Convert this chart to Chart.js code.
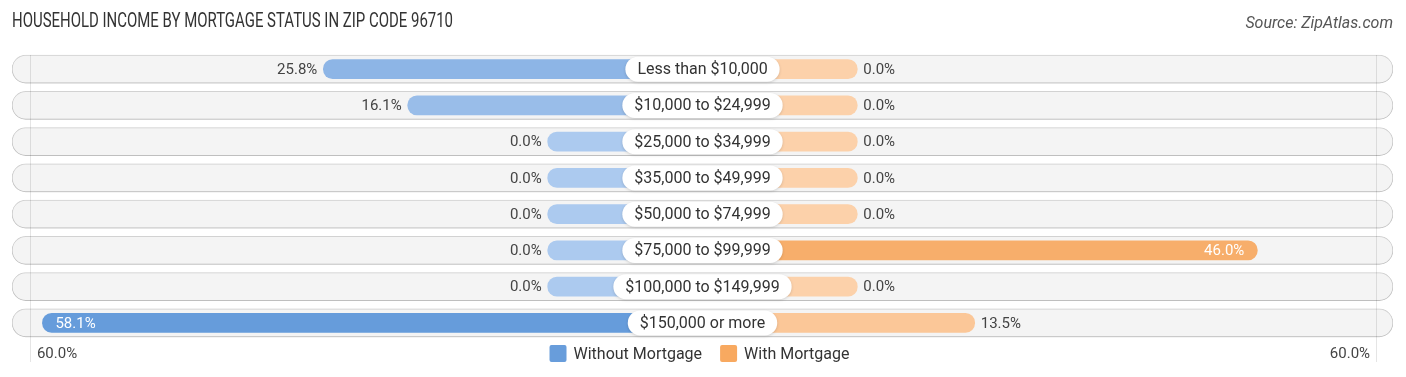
<!DOCTYPE html>
<html>
<head>
<meta charset="utf-8">
<script src="https://cdn.jsdelivr.net/npm/chart.js@4.4.0/dist/chart.umd.min.js"></script>
<style>
  html, body { margin: 0; padding: 0; background: #fff; }
  #wrap { position: relative; width: 1406px; height: 377px; }
</style>
</head>
<body>
<div id="wrap"><canvas id="chart" width="1406" height="377"></canvas></div>
<script>
const chartTitle = 'HOUSEHOLD INCOME BY MORTGAGE STATUS IN ZIP CODE 96710';
const sourceText = 'Source: ZipAtlas.com';
const categories = [
  'Less than $10,000', '$10,000 to $24,999', '$25,000 to $34,999', '$35,000 to $49,999',
  '$50,000 to $74,999', '$75,000 to $99,999', '$100,000 to $149,999', '$150,000 or more'
];
const seriesNames = ['Without Mortgage', 'With Mortgage'];
const withoutMortgage = [25.8, 16.1, 0.0, 0.0, 0.0, 0.0, 0.0, 58.1];
const withMortgage = [0.0, 0.0, 0.0, 0.0, 0.0, 46.0, 0.0, 13.5];
const axisMax = 60;
const axisLabels = ['60.0%', '60.0%'];

// bars start under the centre label, this many units out from the middle
const OFFSET = 17.8;
const EDGE = 79.4;

const BLUE_LIGHT = [172, 202, 239], BLUE_DARK = [100, 154, 218];
const ORANGE_LIGHT = [252, 209, 170], ORANGE_DARK = [246, 163, 88];
const legendColors = ['rgb(104,157,219)', 'rgb(248,169,96)'];

function shade(light, dark, v) {
  const t = Math.min(v / axisMax, 1);
  const c = light.map((l, i) => Math.round(l + (dark[i] - l) * t));
  return `rgb(${c[0]},${c[1]},${c[2]})`;
}

const bgPlugin = {
  id: 'rowShadow',
  beforeDatasetDraw(chart, args) {
    if (args.index !== 0) return;
    const ctx = chart.ctx;
    ctx.save();
    ctx.shadowColor = 'rgba(0,0,0,0.18)';
    ctx.shadowBlur = 3;
    ctx.shadowOffsetY = 1;
  },
  afterDatasetDraw(chart, args) {
    if (args.index === 0) chart.ctx.restore();
  }
};

const labelPlugin = {
  id: 'labels',
  afterDatasetsDraw(chart) {
    const ctx = chart.ctx;
    const xs = chart.scales.x, ys = chart.scales.y;
    const cx = xs.getPixelForValue(0);
    const leftX = xs.getPixelForValue(-(OFFSET + axisMax));
    const rightX = xs.getPixelForValue(OFFSET + axisMax);

    // faint 60% guide lines
    ctx.save();
    ctx.strokeStyle = 'rgba(0,0,0,0.10)';
    ctx.lineWidth = 1;
    [leftX + 4, rightX - 3].forEach(px => {
      const x = Math.round(px) + 0.5;
      ctx.beginPath();
      ctx.moveTo(x, 55);
      ctx.lineTo(x, 362);
      ctx.stroke();
    });
    ctx.restore();

    ctx.save();
    ctx.font = '15px Roboto';
    ctx.textBaseline = 'middle';
    [[1, withoutMortgage, -1], [2, withMortgage, 1]].forEach(([di, values, dir]) => {
      const meta = chart.getDatasetMeta(di);
      meta.data.forEach((bar, i) => {
        const v = values[i];
        const txt = v.toFixed(1) + '%';
        const y = bar.y + 1;
        if (v >= 30) {
          ctx.fillStyle = '#fff';
          ctx.textAlign = dir < 0 ? 'left' : 'right';
          ctx.fillText(txt, bar.x - dir * 13, y);
        } else {
          ctx.fillStyle = '#444';
          ctx.textAlign = dir < 0 ? 'right' : 'left';
          ctx.fillText(txt, bar.x + dir * 6, y);
        }
      });
    });

    // category pills in the middle
    ctx.font = '16px Roboto';
    categories.forEach((c, i) => {
      const y = ys.getPixelForValue(i);
      const w = ctx.measureText(c).width + 24;
      const h = 25;
      ctx.save();
      ctx.shadowColor = 'rgba(0,0,0,0.15)';
      ctx.shadowBlur = 3;
      ctx.shadowOffsetY = 1;
      ctx.fillStyle = '#fff';
      ctx.beginPath();
      ctx.roundRect(cx - w / 2, y - h / 2, w, h, h / 2);
      ctx.fill();
      ctx.restore();
      ctx.fillStyle = '#333';
      ctx.textAlign = 'center';
      ctx.fillText(c, cx, y + 1);
    });

    // axis end labels
    ctx.font = '15px Roboto';
    ctx.fillStyle = '#444';
    ctx.textAlign = 'left';
    ctx.fillText(axisLabels[0], leftX + 11, 354);
    ctx.textAlign = 'right';
    ctx.fillText(axisLabels[1], rightX - 9, 354);

    // legend
    ctx.font = '16px Roboto';
    const box = 17, gap = 7, between = 18;
    const widths = seriesNames.map(s => ctx.measureText(s).width);
    const total = widths.reduce((a, w) => a + box + gap + w, 0) + between;
    let lx = cx - 3 - total / 2;
    seriesNames.forEach((s, i) => {
      ctx.fillStyle = legendColors[i];
      ctx.beginPath();
      ctx.roundRect(lx, 345, box, box, 2);
      ctx.fill();
      ctx.fillStyle = '#333';
      ctx.textAlign = 'left';
      ctx.fillText(s, lx + box + gap, 354.5);
      lx += box + gap + widths[i] + between;
    });

    // title + source
    ctx.fillStyle = '#333';
    ctx.textAlign = 'left';
    ctx.font = '20px Roboto';
    ctx.fillText(chartTitle, 12, 22, 441);
    ctx.font = 'italic 16px Roboto';
    ctx.fillStyle = '#555';
    ctx.textAlign = 'right';
    ctx.fillText(sourceText, 1393, 24);
    ctx.restore();
  }
};

new Chart(document.getElementById('chart'), {
  type: 'bar',
  data: {
    labels: categories,
    datasets: [
      {
        label: 'row',
        data: categories.map(() => [-EDGE, EDGE]),
        backgroundColor: '#f4f4f4',
        borderColor: '#d8d8d8',
        borderWidth: 1,
        borderRadius: 14,
        borderSkipped: false,
        barThickness: 28,
        grouped: false,
        order: 3
      },
      {
        label: seriesNames[0],
        data: withoutMortgage.map(v => [-(OFFSET + v), 0]),
        backgroundColor: ctx => shade(BLUE_LIGHT, BLUE_DARK, withoutMortgage[ctx.dataIndex] || 0),
        borderRadius: 10,
        borderSkipped: false,
        barThickness: 19,
        grouped: false,
        order: 2
      },
      {
        label: seriesNames[1],
        data: withMortgage.map(v => [0, OFFSET + v]),
        backgroundColor: ctx => shade(ORANGE_LIGHT, ORANGE_DARK, withMortgage[ctx.dataIndex] || 0),
        borderRadius: 10,
        borderSkipped: false,
        barThickness: 19,
        grouped: false,
        order: 1
      }
    ]
  },
  options: {
    indexAxis: 'y',
    responsive: false,
    animation: false,
    layout: { padding: { left: 12, right: 13, top: 51, bottom: 36 } },
    scales: {
      x: { display: false, min: -EDGE, max: EDGE },
      y: { display: false }
    },
    plugins: {
      tooltip: { enabled: false },
      legend: { display: false }
    }
  },
  plugins: [bgPlugin, labelPlugin]
});
</script>
</body>
</html>
